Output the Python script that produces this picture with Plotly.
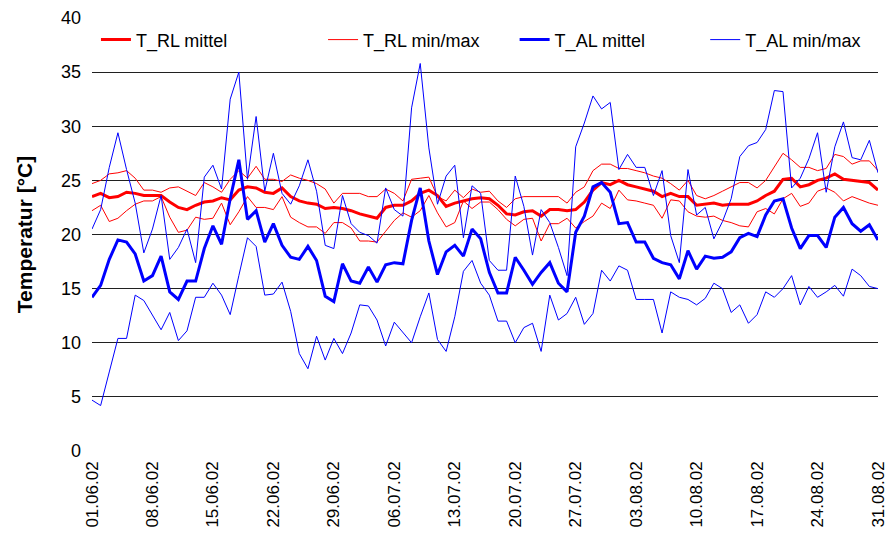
import pandas as pd
import plotly.graph_objects as go

# Daily categories, 1 June to 31 August 2002
dates = pd.date_range("2002-06-01", "2002-08-31", freq="D").strftime("%d.%m.%y").tolist()
tick_labels = dates[::7]

# Room-air temperature (T_RL): daily mean, minimum, maximum [°C]
rl_mittel = [23.5, 23.8, 23.4, 23.5, 23.9, 23.8, 23.6, 23.6, 23.6, 23.0,
             22.5, 22.3, 22.7, 23.0, 23.1, 23.4, 23.2, 24.1, 24.4, 24.3,
             23.9, 23.8, 24.3, 23.5, 23.1, 22.9, 22.8, 22.4, 22.5, 22.4,
             22.2, 21.9, 21.7, 21.5, 22.5, 22.7, 22.7, 23.1, 23.8, 24.1,
             23.6, 22.6, 22.9, 23.1, 23.3, 23.4, 23.3, 22.7, 21.9, 21.8,
             22.1, 22.2, 21.7, 22.3, 22.3, 22.2, 22.3, 23.0, 24.1, 24.8,
             24.6, 25.0, 24.6, 24.4, 24.2, 24.0, 23.5, 23.8, 23.5, 23.5,
             22.7, 22.8, 22.9, 22.7, 22.8, 22.8, 22.8, 23.1, 23.6, 24.0,
             25.1, 25.2, 24.4, 24.6, 25.0, 25.2, 25.6, 25.1, 25.0, 24.9,
             24.8, 24.1]
rl_max = [24.7, 25.0, 25.6, 25.7, 25.9, 25.2, 24.1, 24.1, 23.9, 24.3,
          24.4, 24.0, 23.6, 24.8, 24.4, 23.9, 25.1, 25.9, 25.2, 26.3,
          25.1, 25.1, 24.9, 25.5, 25.2, 25.0, 24.7, 24.2, 22.9, 23.8,
          23.8, 23.8, 23.5, 23.5, 24.2, 23.8, 23.1, 25.1, 25.2, 25.3,
          23.5, 23.1, 24.1, 23.4, 24.2, 23.9, 24.0, 23.1, 22.5, 23.3,
          23.5, 23.5, 23.5, 23.5, 23.5, 22.9, 23.9, 24.4, 25.9, 26.5,
          26.5, 26.1, 26.1, 25.9, 25.7, 25.4, 25.2, 24.7, 24.1, 25.0,
          23.6, 23.3, 23.6, 24.0, 24.4, 24.8, 24.8, 24.3, 25.0, 26.2,
          27.5, 26.9, 26.2, 26.2, 25.9, 26.1, 27.4, 27.2, 26.5, 26.8,
          26.8, 25.9]
rl_min = [22.2, 22.7, 21.2, 21.5, 22.2, 22.8, 23.1, 23.1, 23.5, 21.6,
          20.2, 20.4, 21.6, 21.4, 21.5, 22.9, 20.9, 22.1, 23.5, 22.5,
          22.5, 22.3, 23.5, 21.6, 21.1, 20.7, 20.7, 20.1, 21.1, 21.1,
          20.6, 19.4, 19.4, 19.3, 20.3, 21.3, 22.0, 21.6, 22.2, 23.6,
          22.0, 20.7, 21.1, 23.1, 22.4, 23.0, 23.0, 22.3, 21.4, 20.8,
          21.4, 21.5, 19.4, 21.0, 21.0, 21.5, 20.6, 21.2, 21.7, 22.9,
          22.4, 24.1, 23.2, 23.1, 22.9, 22.7, 21.5, 23.2, 23.1, 22.1,
          21.7, 21.6, 21.7, 21.3, 21.1, 20.8, 20.7, 22.1, 22.4, 21.9,
          23.3, 23.8, 22.6, 22.9, 24.0, 24.3, 23.9, 23.1, 23.5, 23.2,
          22.9, 22.7]

# Outside-air temperature (T_AL): daily mean, minimum, maximum [°C]
al_mittel = [14.2, 15.3, 17.7, 19.5, 19.3, 18.2, 15.7, 16.2, 18.0, 14.7,
             14.0, 15.7, 15.7, 18.7, 20.8, 19.1, 23.3, 26.9, 21.4, 22.2,
             19.3, 21.0, 19.0, 17.9, 17.7, 18.9, 17.6, 14.3, 13.8, 17.3,
             15.7, 15.5, 17.0, 15.6, 17.2, 17.4, 17.3, 21.3, 24.3, 19.4,
             16.3, 18.4, 19.0, 18.0, 20.5, 19.6, 16.5, 14.6, 14.6, 17.9,
             16.7, 15.4, 16.5, 17.4, 15.5, 14.7, 20.2, 21.7, 24.4, 24.8,
             23.9, 21.0, 21.1, 19.3, 19.3, 17.8, 17.4, 17.2, 15.9, 18.5,
             16.8, 18.0, 17.8, 17.9, 18.4, 19.7, 20.1, 19.8, 21.8, 23.1,
             23.3, 20.6, 18.7, 19.9, 19.9, 18.8, 21.6, 22.5, 21.0, 20.3,
             20.9, 19.5]
al_max = [20.5, 22.3, 26.2, 29.4, 26.0, 22.9, 18.3, 20.5, 23.6, 17.7,
          18.8, 20.5, 17.4, 25.3, 26.4, 24.2, 32.5, 35.0, 25.1, 30.9,
          24.0, 27.5, 23.8, 22.8, 24.5, 26.9, 24.0, 19.0, 18.7, 23.6,
          21.0, 20.2, 19.9, 19.2, 24.3, 22.3, 21.7, 31.7, 35.8, 28.0,
          22.8, 25.4, 26.4, 19.7, 24.5, 23.8, 17.6, 16.7, 16.7, 25.4,
          22.6, 18.1, 22.3, 21.1, 18.8, 16.2, 28.1, 30.3, 32.8, 31.6,
          32.2, 26.0, 27.4, 26.2, 26.2, 23.6, 25.9, 19.9, 17.4, 26.0,
          21.8, 22.5, 19.6, 21.2, 23.3, 27.2, 28.2, 28.5, 29.7, 33.3,
          33.2, 24.3, 25.2, 27.0, 29.4, 23.9, 28.1, 30.4, 27.1, 26.9,
          28.7, 25.7]
al_min = [4.7, 4.2, 7.3, 10.4, 10.4, 14.4, 13.9, 12.5, 11.2, 12.8,
          10.2, 11.1, 14.2, 14.2, 15.5, 14.4, 12.6, 16.2, 19.7, 18.9,
          14.4, 14.5, 15.6, 12.9, 9.0, 7.6, 10.6, 8.4, 10.4, 9.0,
          10.9, 13.5, 13.4, 12.1, 9.7, 11.9, 11.0, 10.0, 12.4, 14.6,
          10.3, 9.2, 12.4, 16.6, 17.6, 15.5, 14.4, 12.0, 12.0, 10.0,
          11.4, 11.8, 9.2, 14.4, 12.1, 12.7, 14.2, 11.7, 12.7, 16.7,
          15.7, 17.1, 16.7, 14.0, 14.0, 14.0, 10.9, 14.7, 14.2, 14.0,
          13.5, 14.1, 15.5, 15.0, 12.8, 13.5, 11.8, 12.6, 14.7, 14.2,
          15.0, 16.2, 13.5, 15.2, 14.2, 14.7, 15.3, 14.3, 16.8, 16.2,
          15.2, 15.0]

RED = "#FF0000"
BLUE = "#0000FF"
FONT = "Liberation Sans, Arial, sans-serif"

fig = go.Figure()

def add_line(y, name, color, width, legend, showlegend=True):
    fig.add_trace(go.Scatter(
        x=dates, y=y, name=name, mode="lines",
        line=dict(color=color, width=width),
        legend=legend, showlegend=showlegend, hoverinfo="x+y+name",
    ))

add_line(rl_mittel, "T_RL mittel", RED, 3, "legend")
add_line(rl_min, "T_RL min/max", RED, 1, "legend2")
add_line(rl_max, "T_RL min/max", RED, 1, "legend2", showlegend=False)
add_line(al_mittel, "T_AL mittel", BLUE, 3, "legend3")
add_line(al_min, "T_AL min/max", BLUE, 1, "legend4")
add_line(al_max, "T_AL min/max", BLUE, 1, "legend4", showlegend=False)

plot_left, plot_right, plot_top, plot_bottom = 92, 888, 18, 453
W, H = 896, 536

def legend_at(px):
    return dict(
        x=(px - plot_left) / (plot_right - plot_left), y=(plot_bottom - 40) / (plot_bottom - plot_top),
        xanchor="left", yanchor="middle", orientation="h",
        bgcolor="white", borderwidth=0,
        font=dict(family=FONT, size=18, color="black"),
        itemwidth=30, tracegroupgap=0,
    )

fig.update_layout(
    width=W, height=H,
    margin=dict(l=plot_left, r=W - plot_right, t=plot_top, b=H - plot_bottom, pad=0),
    paper_bgcolor="white", plot_bgcolor="white",
    font=dict(family=FONT, size=18, color="black"),
    legend=legend_at(96),
    legend2=legend_at(326),
    legend3=legend_at(520),
    legend4=legend_at(713),
)

fig.update_xaxes(
    type="category", range=[0, len(dates) - 1],
    tickmode="array", tickvals=tick_labels, ticktext=tick_labels,
    tickangle=-90, ticks="", ticklabelstandoff=6,
    showgrid=False, showline=False, zeroline=False,
    tickfont=dict(family=FONT, size=17, color="black"),
)
fig.update_yaxes(
    range=[0, 40], dtick=5, tick0=0,
    showgrid=True, gridcolor="#202020", gridwidth=1,
    showline=False, zeroline=False, ticks="", ticklabelstandoff=10,
    tickfont=dict(family=FONT, size=18, color="black"),
    title=dict(text="<b>Temperatur [°C]</b>", standoff=22,
               font=dict(family=FONT, size=21, color="black")),
)

fig.write_html("out.html")
